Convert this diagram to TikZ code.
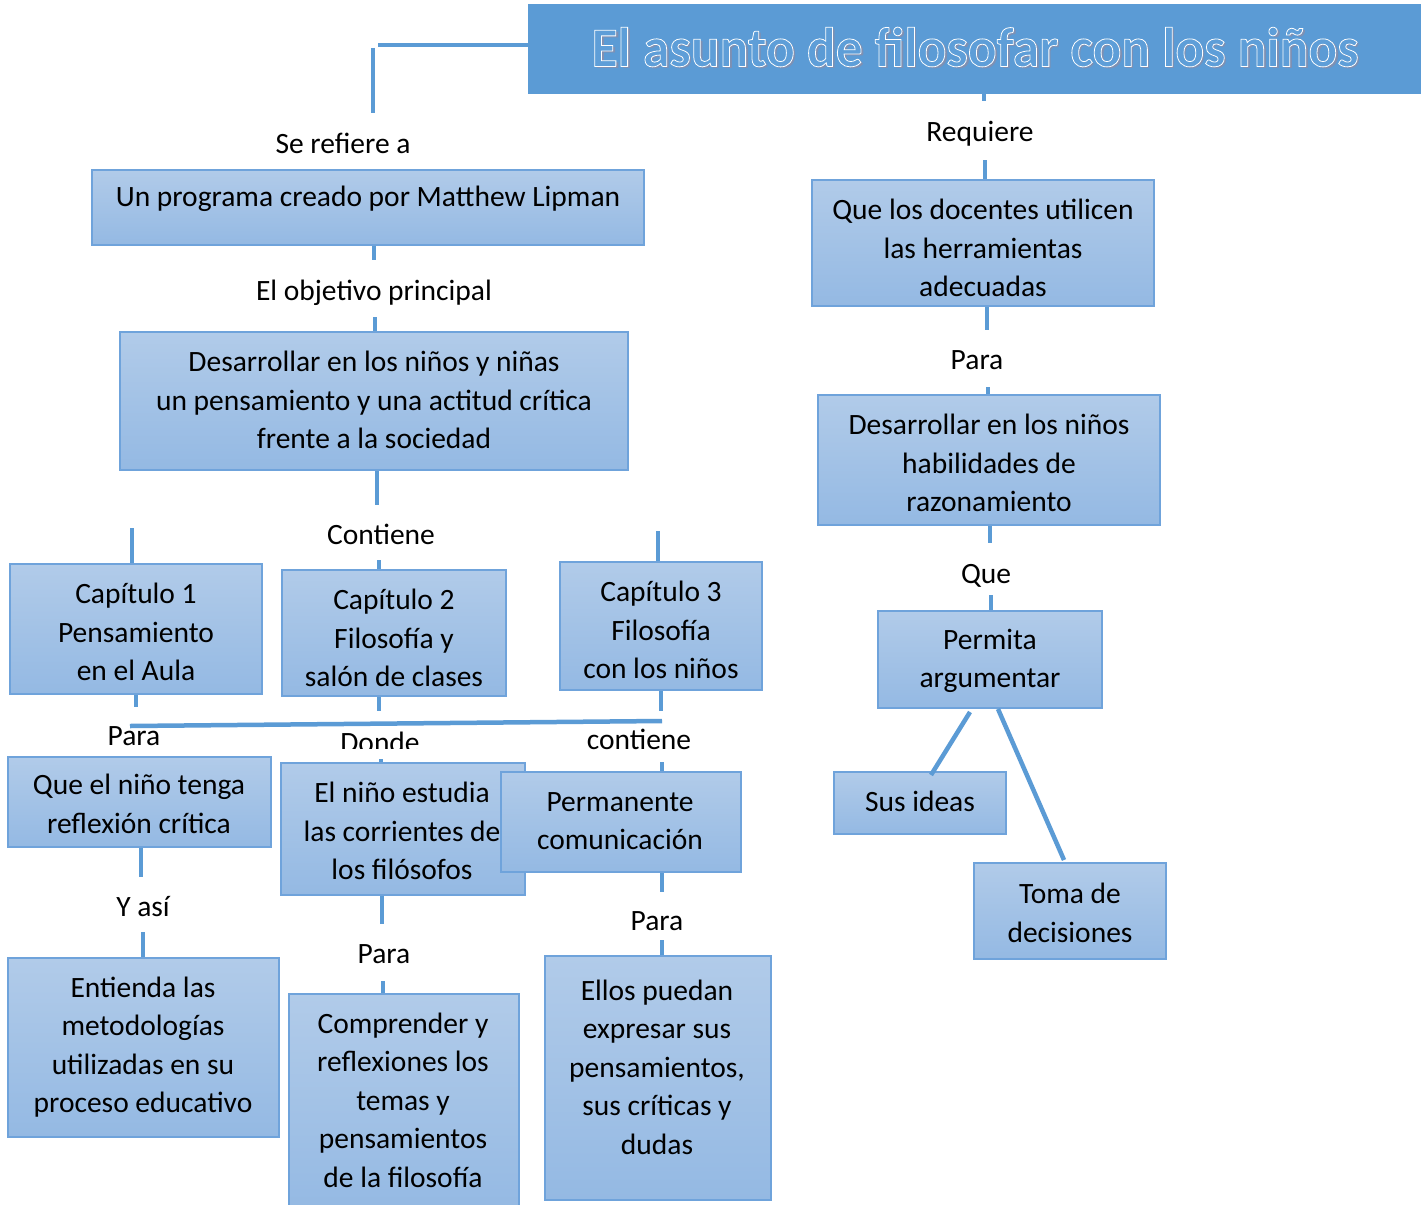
\documentclass[tikz,border=0pt]{standalone}
\usepackage{fontspec}
\setmainfont{Carlito}
\newfontfamily\titlefont[FakeStretch=0.957,FakeBold=1.4]{Carlito}
\newfontfamily\titleplain[FakeStretch=0.957]{Carlito}
\usetikzlibrary{fit,calc}
\definecolor{lineblue}{HTML}{5B9BD5}
\definecolor{boxtop}{HTML}{B1CBE9}
\definecolor{boxbot}{HTML}{94B9E3}
\definecolor{boxedge}{HTML}{6FA3DB}
\definecolor{titlefill}{HTML}{5B9BD5}
\definecolor{titleinner}{HTML}{5E9ED8}
\definecolor{titleshadow}{HTML}{7F90B2}
\begin{document}
\begin{tikzpicture}[x=0.5pt,y=-0.5pt,
  box/.style={draw=boxedge, line width=1pt, top color=boxtop, bottom color=boxbot, inner sep=0pt, rectangle},
  txt/.style={align=center, inner sep=0pt, font=\fontsize{14.75pt}{19.25pt}\selectfont},
  lbl/.style={inner sep=0pt, anchor=base, font=\fontsize{14.75pt}{19.25pt}\selectfont},
  conn/.style={draw=lineblue, line width=2.25pt},
  ttl/.style={inner sep=0pt, font=\fontsize{28pt}{30pt}\selectfont}]
\clip (0,0) rectangle (1428,1204);
\fill[white] (0,0) rectangle (1428,1204);

% ---------- title ----------
\node[fit={(528,4) (1421,94)}, inner sep=0pt, fill=titlefill] (T) {};
\node[ttl, text=titleshadow] (tsh) at (977.5,49.5) {\titleplain\bfseries El asunto de filosofar con los niños};
\node[ttl] (ttxt) at (975,47) {\titlefont\bfseries\color{titleinner}\special{pdf:code 1 1 1 RG}El asunto de filosofar con los niños};

% ---------- boxes (left) ----------
\node[box, fit={(92,170) (644,245)}] (A) {};
\node[txt] (At) at (368,199) {Un programa creado por Matthew Lipman};
\node[box, fit={(120,332) (628,470)}] (B) {};
\node[txt] (Bt) at (374,400) {Desarrollar en los niños y niñas\\un pensamiento y una actitud crítica\\frente a la sociedad};
\node[box, fit={(10,564) (262,694)}] (C1) {};
\node[txt] (C1t) at (136,632) {Capítulo 1\\Pensamiento\\en el Aula};
\node[box, fit={(282,570) (506,696)}] (C2) {};
\node[txt] (C2t) at (394,638) {Capítulo 2\\Filosofía y\\salón de clases};
\node[box, fit={(560,562) (762,690)}] (C3) {};
\node[txt] (C3t) at (661,630) {Capítulo 3\\Filosofía\\con los niños};

% "Donde" label (clipped by its own frame)
\begin{scope}
  \clip (300,700) rectangle (460,748);
  \node[lbl] (l6) at (380,752) {Donde};
\end{scope}

\node[box, fit={(8,757) (271,847)}] (Q) {};
\node[txt] (Qt) at (139,804) {Que el niño tenga\\reflexión crítica};
\node[box, fit={(8,958) (279,1137)}] (E) {};
\node[txt] (Et) at (143,1047) {Entienda las\\metodologías\\utilizadas en su\\proceso educativo};
\node[box, fit={(281,763) (525,895)}] (N) {};
\node[txt] (Nt) at (402,831) {El niño estudia\\las corrientes de\\los filósofos};
\node[box, fit={(501,772) (741,872)}] (P) {};
\node[txt] (Pt) at (620,821) {Permanente\\comunicación};
\node[box, fit={(289,994) (519,1215)}] (K) {};
\node[txt] (Kt) at (403,1100) {Comprender y\\reflexiones los\\temas y\\pensamientos\\de la filosofía};
\node[box, fit={(545,956) (771,1200)}] (L) {};
\node[txt] (Lt) at (657,1067) {Ellos puedan\\expresar sus\\pensamientos,\\sus críticas y\\dudas};

% ---------- boxes (right) ----------
\node[box, fit={(812,180) (1154,306)}] (R1) {};
\node[txt] (R1t) at (983,248) {Que los docentes utilicen\\las herramientas\\adecuadas};
\node[box, fit={(818,395) (1160,525)}] (R2) {};
\node[txt] (R2t) at (989,463) {Desarrollar en los niños\\habilidades de\\razonamiento};
\node[box, fit={(878,611) (1102,708)}] (R3) {};
\node[txt] (R3t) at (990,661) {Permita\\argumentar};
\node[box, fit={(834,772) (1006,834)}] (S) {};
\node[txt] (St) at (920,801) {Sus ideas};
\node[box, fit={(974,863) (1166,959)}] (D) {};
\node[txt] (Dt) at (1070,913) {Toma de\\decisiones};

% ---------- labels ----------
\node[lbl] (l1) at (343,153) {Se refiere a};
\node[lbl] (l2) at (980,141) {Requiere};
\node[lbl] (l3) at (374,300) {El objetivo principal};
\node[lbl] (l4) at (381,544) {Contiene};
\node[lbl] (l5) at (134,745) {Para};
\node[lbl] (l7) at (639,749) {contiene};
\node[lbl] (l8) at (143,916) {Y así};
\node[lbl] (l9) at (384,963) {Para};
\node[lbl] (l10) at (657,930) {Para};
\node[lbl] (l11) at (977,369) {Para};
\node[lbl] (l12) at (986,583) {Que};

% ---------- connectors ----------
\coordinate (c1) at (378,45);
\coordinate (c2) at (373,48);
\coordinate (c3) at (373,113);
\draw[conn] (c1) -- (c1 -| T.west);
\draw[conn] (c2) -- (c3);

\coordinate (r1) at (984,101);
\draw[conn] (r1 |- T.south) -- (r1);
\coordinate (r2) at (985,160);
\draw[conn] (r2) -- (r2 |- R1.north);
\coordinate (r3) at (987,330);
\draw[conn] (r3 |- R1.south) -- (r3);
\coordinate (r4) at (988,387);
\draw[conn] (r4) -- (r4 |- R2.north);
\coordinate (r5) at (990,543);
\draw[conn] (r5 |- R2.south) -- (r5);
\coordinate (r6) at (991,595);
\draw[conn] (r6) -- (r6 |- R3.north);
\coordinate (p1) at (970,712);
\coordinate (p2) at (931,775);
\draw[conn] (p1) -- (p2);
\coordinate (p3) at (998,709);
\coordinate (p4) at (1064,860);
\draw[conn] (p3) -- (p4);

\coordinate (a1) at (374,260);
\draw[conn] (a1 |- A.south) -- (a1);
\coordinate (a2) at (375,317);
\draw[conn] (a2) -- (a2 |- B.north);
\coordinate (a3) at (377,505);
\draw[conn] (a3 |- B.south) -- (a3);
\coordinate (a4) at (379,560);
\draw[conn] (a4) -- (a4 |- C2.north);
\coordinate (a5) at (132,528);
\draw[conn] (a5) -- (a5 |- C1.north);
\coordinate (a6) at (658,531);
\draw[conn] (a6) -- (a6 |- C3.north);
\coordinate (b1) at (136,707);
\draw[conn] (b1 |- C1.south) -- (b1);
\coordinate (b2) at (379,711);
\draw[conn] (b2 |- C2.south) -- (b2);
\coordinate (b3) at (661,711);
\draw[conn] (b3 |- C3.south) -- (b3);
\coordinate (h1) at (130,726);
\coordinate (h2) at (662,721);
\draw[conn] (h1) -- (h2);
\coordinate (b4) at (381,759);
\draw[conn] (b4) -- (b4 |- N.north);
\coordinate (b5) at (662,762);
\draw[conn] (b5) -- (b5 |- P.north);

\coordinate (d1) at (141,877);
\draw[conn] (d1 |- Q.south) -- (d1);
\coordinate (d2) at (143,932);
\draw[conn] (d2) -- (d2 |- E.north);
\coordinate (d3) at (382,924);
\draw[conn] (d3 |- N.south) -- (d3);
\coordinate (d4) at (383,981);
\draw[conn] (d4) -- (d4 |- K.north);
\coordinate (d5) at (662,892);
\draw[conn] (d5 |- P.south) -- (d5);
\coordinate (d6) at (662,940);
\draw[conn] (d6) -- (d6 |- L.north);
\end{tikzpicture}
\end{document}
